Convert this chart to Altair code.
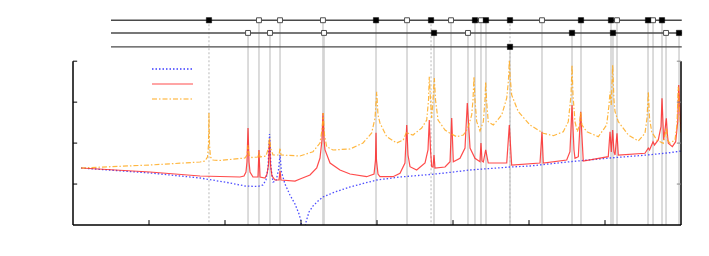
import altair as alt
import pandas as pd

# ---- curve data (x in axis units 0..8, y in axis units 0..4) ----
blue_x = [0.105, 1.013, 1.671, 2.066, 2.263, 2.434, 2.500, 2.539, 2.566, 2.586, 2.605, 2.632, 2.671, 2.704,
          2.724, 2.743, 2.789, 2.855, 2.921, 2.974, 3.000, 3.020, 3.066, 3.105, 3.158, 3.224, 3.289, 3.447,
          3.645, 3.842, 4.000, 4.303, 4.697, 4.895, 5.224, 5.750, 6.013, 6.566, 7.066, 7.553, 7.816, 8.000]
blue_y = [1.392, 1.270, 1.148, 1.026, 0.952, 0.940, 0.977, 1.099, 1.392, 2.222, 1.392, 1.050, 1.074, 1.343,
          1.709, 1.294, 1.001, 0.733, 0.513, 0.269, 0.098, -0.366, 0.073, 0.317, 0.464, 0.586, 0.684, 0.806,
          0.928, 1.026, 1.099, 1.172, 1.233, 1.270, 1.343, 1.416, 1.441, 1.551, 1.636, 1.709, 1.758, 1.807]

red_x = [0.105, 1.013, 1.671, 2.197, 2.250, 2.276, 2.289, 2.303, 2.316, 2.329, 2.368, 2.434, 2.447, 2.461,
         2.526, 2.553, 2.572, 2.586, 2.599, 2.618, 2.658, 2.711, 2.724, 2.737, 2.921, 2.987, 3.118, 3.207,
         3.250, 3.276, 3.289, 3.303, 3.316, 3.382, 3.513, 3.645, 3.864, 3.961, 3.980, 3.987, 3.993, 4.013,
         4.039, 4.211, 4.303, 4.368, 4.391, 4.408, 4.434, 4.522, 4.632, 4.671, 4.688, 4.704, 4.720, 4.737,
         4.750, 4.763, 4.895, 4.961, 4.983, 5.004, 5.092, 5.158, 5.188, 5.224, 5.289, 5.355, 5.368, 5.382,
         5.399, 5.430, 5.464, 5.707, 5.741, 5.772, 6.145, 6.171, 6.188, 6.496, 6.539, 6.566, 6.592, 6.605,
         6.649, 6.680, 6.714, 7.043, 7.066, 7.083, 7.101, 7.118, 7.132, 7.158, 7.175, 7.526, 7.570, 7.586,
         7.614, 7.632, 7.651, 7.701, 7.737, 7.750, 7.772, 7.789, 7.807, 7.822, 7.833, 7.886, 7.930, 7.957,
         7.970, 7.987, 8.000]
red_y = [1.392, 1.294, 1.197, 1.172, 1.197, 1.294, 1.538, 2.369, 1.538, 1.294, 1.172, 1.172, 1.832, 1.172,
         1.148, 1.245, 1.465, 2.076, 1.465, 1.197, 1.099, 1.099, 1.319, 1.099, 1.074, 1.123, 1.221, 1.392,
         1.636, 2.076, 2.735, 2.076, 1.832, 1.514, 1.343, 1.245, 1.179, 1.245, 1.587, 2.254, 1.587, 1.245,
         1.179, 1.179, 1.263, 1.514, 2.442, 1.709, 1.424, 1.343, 1.514, 1.832, 2.564, 1.832, 1.424, 1.416,
         1.709, 1.392, 1.416, 1.546, 2.613, 1.546, 1.629, 1.880, 2.979, 1.880, 1.629, 1.546, 2.002, 1.563,
         1.538, 1.832, 1.514, 1.514, 2.442, 1.465, 1.514, 2.278, 1.514, 1.587, 1.790, 2.930, 1.832, 1.629,
         1.668, 2.767, 1.563, 1.668, 2.278, 1.783, 2.320, 1.783, 1.709, 2.239, 1.709, 1.751, 1.880, 1.832,
         1.954, 2.034, 1.954, 2.076, 2.400, 3.094, 2.076, 2.320, 2.606, 2.198, 1.995, 1.912, 2.034, 2.523,
         3.419, 2.808, 2.278]

orange_x = [0.105, 1.013, 1.671, 1.737, 1.770, 1.783, 1.789, 1.796, 1.809, 1.842, 1.934, 2.263, 2.289, 2.303,
            2.316, 2.355, 2.434, 2.447, 2.461, 2.539, 2.572, 2.586, 2.599, 2.632, 2.711, 2.724, 2.737, 2.987,
            3.158, 3.250, 3.276, 3.293, 3.309, 3.338, 3.421, 3.645, 3.816, 3.930, 3.974, 3.996, 4.013, 4.039,
            4.128, 4.259, 4.346, 4.391, 4.421, 4.474, 4.588, 4.654, 4.678, 4.688, 4.704, 4.720, 4.737, 4.754,
            4.770, 4.803, 4.895, 4.961, 5.049, 5.136, 5.180, 5.204, 5.246, 5.263, 5.276, 5.289, 5.312, 5.355,
            5.399, 5.421, 5.430, 5.441, 5.464, 5.530, 5.641, 5.707, 5.730, 5.741, 5.750, 5.772, 5.859, 6.013,
            6.188, 6.320, 6.451, 6.517, 6.553, 6.566, 6.579, 6.605, 6.636, 6.664, 6.680, 6.697, 6.759, 6.912,
            7.022, 7.053, 7.066, 7.082, 7.101, 7.118, 7.132, 7.175, 7.307, 7.438, 7.526, 7.553, 7.570, 7.586,
            7.614, 7.680, 7.767, 7.789, 7.807, 7.822, 7.855, 7.921, 7.947, 7.964, 7.980, 8.000]
orange_y = [1.392, 1.465, 1.538, 1.563, 1.661, 1.954, 2.735, 1.954, 1.661, 1.587, 1.575, 1.636, 1.709, 1.954,
            1.709, 1.648, 1.661, 1.783, 1.661, 1.685, 1.880, 2.125, 1.880, 1.709, 1.709, 1.880, 1.709, 1.685,
            1.790, 2.002, 2.320, 2.735, 2.198, 1.912, 1.832, 1.856, 2.002, 2.247, 2.613, 3.255, 2.686, 2.491,
            2.156, 2.002, 2.076, 2.278, 2.222, 2.198, 2.369, 2.564, 3.053, 3.622, 3.053, 2.613, 3.053, 3.590,
            3.053, 2.564, 2.320, 2.239, 2.156, 2.198, 2.320, 2.418, 2.686, 3.053, 3.622, 3.053, 2.523, 2.295,
            2.523, 3.053, 3.499, 3.053, 2.523, 2.442, 2.686, 3.101, 3.541, 4.029, 3.663, 3.175, 2.767, 2.442,
            2.239, 2.181, 2.278, 2.523, 3.175, 3.907, 3.175, 2.523, 2.278, 2.442, 2.767, 2.442, 2.278, 2.156,
            2.442, 2.930, 3.255, 2.930, 3.907, 3.053, 2.767, 2.523, 2.198, 2.051, 2.239, 2.613, 3.255, 2.613,
            2.278, 2.076, 1.995, 2.198, 2.369, 2.076, 1.995, 2.076, 2.442, 3.377, 2.808, 2.198]

# ---- mode markers: position, row, filled, dotted guide line ----
mode_x = [1.789, 2.447, 2.724, 3.289, 3.987, 4.395, 4.711, 4.974, 5.289, 5.368, 5.434, 5.750, 6.171,
          6.684, 7.079, 7.158, 7.566, 7.632, 7.750,
          2.303, 2.592, 3.303, 4.750, 5.197, 6.566, 7.105, 7.803, 7.974,
          5.750]
mode_row = [1] * 19 + [2] * 9 + [3]
mode_filled = [1, 0, 0, 0, 1, 0, 1, 0, 1, 0, 1, 1, 0, 1, 1, 0, 1, 0, 1,
               0, 0, 0, 1, 0, 1, 1, 0, 1,
               1]
mode_dotted = [1, 0, 0, 0, 0, 0, 1, 0, 0, 0, 0, 1, 0, 0, 0, 0, 0, 0, 0,
               0, 0, 0, 0, 0, 0, 0, 0, 0,
               0]
row_level = {1: 5.0, 2: 4.69, 3: 4.35}
row_start, row_end = 0.5, 8.01

x_ticks = [1, 2, 3, 4, 5, 6, 7]
y_ticks = [1, 2, 3, 4]
x_min, x_max, y_min, y_max = 0, 8, 0, 4

# ---- tables ----
def curve(xs, ys):
    return pd.DataFrame({"x": xs, "y": ys, "i": list(range(len(xs)))})

modes = pd.DataFrame({"x": mode_x, "row": mode_row, "filled": mode_filled, "dotted": mode_dotted})
modes["top"] = modes["row"].map(row_level)
modes["base"] = 0.0
rows = pd.DataFrame({"row": [1, 2, 3]})
rows["y"] = rows["row"].map(row_level)
rows["x0"] = row_start
rows["x1"] = row_end

xs = alt.Scale(domain=[0, 8], nice=False, zero=False)
ys = alt.Scale(domain=[0, 5.25], nice=False, zero=False)


def X(f):
    return alt.X(f, type="quantitative", scale=xs, axis=None)


def Y(f):
    return alt.Y(f, type="quantitative", scale=ys, axis=None)


vlines_solid = alt.Chart(modes[modes.dotted == 0]).mark_rule(color="#d0d0d0", strokeWidth=1.5).encode(
    x=X("x"), y=Y("top"), y2="base:Q")
vlines_dot = alt.Chart(modes[modes.dotted == 1]).mark_rule(color="#c4c4c4", strokeWidth=1.2, strokeDash=[2, 2]).encode(
    x=X("x"), y=Y("top"), y2="base:Q")
row_lines = alt.Chart(rows).mark_rule(color="#4a4a4a", strokeWidth=1.4).encode(
    x=X("x0"), x2="x1:Q", y=Y("y"))
m_filled = alt.Chart(modes[modes.filled == 1]).mark_point(
    shape="square", filled=True, fill="#000000", stroke="#000000", strokeWidth=0.5, size=28, opacity=1).encode(
    x=X("x"), y=Y("top"))
m_hollow = alt.Chart(modes[modes.filled == 0]).mark_point(
    shape="square", filled=True, fill="#ffffff", stroke="#505050", strokeWidth=1, size=24, opacity=1).encode(
    x=X("x"), y=Y("top"))

blue = alt.Chart(curve(blue_x, blue_y)).mark_line(
    color="#3b3bff", strokeWidth=1.3, strokeDash=[1.5, 2], clip=True, opacity=0.9).encode(
    x=X("x"), y=Y("y"), order="i:Q")
red = alt.Chart(curve(red_x, red_y)).mark_line(
    color="#ff1e1e", strokeWidth=1.2, clip=True, opacity=0.8).encode(
    x=X("x"), y=Y("y"), order="i:Q")
orange = alt.Chart(curve(orange_x, orange_y)).mark_line(
    color="#ffaa1e", strokeWidth=1.2, strokeDash=[5, 2, 1.5, 2], clip=True, opacity=0.85).encode(
    x=X("x"), y=Y("y"), order="i:Q")

axis_df = pd.DataFrame({"x0": [x_min, x_min, x_max], "x1": [x_min, x_max, x_max],
                        "y0": [y_min, y_min, y_min], "y1": [y_max, y_min, y_max]})
axes = alt.Chart(axis_df).mark_rule(color="#000000", strokeWidth=1.5).encode(
    x=X("x0"), x2="x1:Q", y=Y("y0"), y2="y1:Q")

lt = pd.DataFrame({"y": y_ticks})
lt["x0"] = x_min
lt["x1"] = x_min + 0.055
rt = pd.DataFrame({"y": y_ticks})
rt["x0"] = x_max
rt["x1"] = x_max - 0.055
bt = pd.DataFrame({"x": x_ticks})
bt["y0"] = y_min
bt["y1"] = y_min + 0.12

ltick = alt.Chart(lt).mark_rule(color="#000000", strokeWidth=1).encode(
    y=Y("y"), x=X("x0"), x2="x1:Q")
rtick = alt.Chart(rt).mark_rule(color="#888888", strokeWidth=1).encode(
    y=Y("y"), x=X("x0"), x2="x1:Q")
btick = alt.Chart(bt).mark_rule(color="#000000", strokeWidth=1).encode(
    x=X("x"), y=Y("y0"), y2="y1:Q")

leg = pd.DataFrame({"s": ["blue", "red", "orange"]})
leg_blue = alt.Chart(leg[leg.s == "blue"]).mark_rule(color="#3b3bff", strokeWidth=1.3, strokeDash=[1.5, 2]).encode(
    x=alt.value(79), x2=alt.value(120), y=alt.value(59))
leg_red = alt.Chart(leg[leg.s == "red"]).mark_rule(color="#ff1e1e", strokeWidth=1.2, opacity=0.8).encode(
    x=alt.value(79), x2=alt.value(120), y=alt.value(74))
leg_orange = alt.Chart(leg[leg.s == "orange"]).mark_rule(color="#ffaa1e", strokeWidth=1.2, strokeDash=[5, 2, 1.5, 2]).encode(
    x=alt.value(79), x2=alt.value(120), y=alt.value(89))

chart = alt.layer(
    vlines_solid, vlines_dot, row_lines, m_hollow, m_filled,
    blue, red, orange, axes, ltick, rtick, btick, leg_blue, leg_red, leg_orange
).properties(
    width=608, height=215,
    padding={"left": 65, "top": 2, "right": 20, "bottom": 10},
    autosize=alt.AutoSizeParams(type="none"),
).configure(background="white", view=alt.ViewConfig(stroke=None))

chart.save("out.html", embed_options={"renderer": "svg", "actions": False})
